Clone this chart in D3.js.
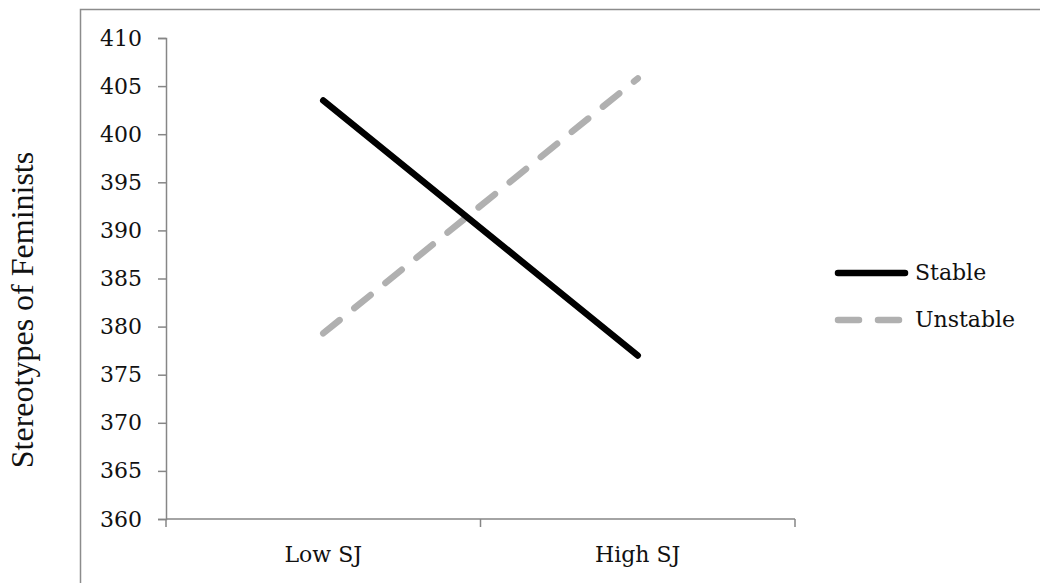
<!DOCTYPE html>
<html>
<head>
<meta charset="utf-8">
<script src="https://cdn.jsdelivr.net/npm/d3@7"></script>
<style>
  body { margin: 0; background: #fff; }
  svg { display: block; }
</style>
</head>
<body>
<svg id="chart" width="1040" height="583"></svg>
<script>
var categories = ["Low SJ", "High SJ"];
var seriesNames = ["Stable", "Unstable"];
var stableValues = [403.5, 377.0];
var unstableValues = [379.3, 405.8];
var yTicks = [360, 365, 370, 375, 380, 385, 390, 395, 400, 405, 410];
var yAxisTitle = "Stereotypes of Feminists";

var svg = d3.select("#chart"),
    margin = {top: 38, left: 166},
    plotRight = 795,
    plotBottom = 519;

var tickFont = "'DejaVu Serif', 'Liberation Serif', serif";
var tickSize = 22;

// chart area border (only left and top edges fall inside the picture)
svg.append("path")
    .attr("d", "M80.5,600V9.5H1045")
    .attr("fill", "none")
    .attr("stroke", "#8c8c8c")
    .attr("stroke-width", 1.5);

var x = d3.scaleBand()
    .domain(categories)
    .range([margin.left, plotRight]);

var y = d3.scaleLinear()
    .domain([360, 410])
    .range([plotBottom, margin.top]);

var axisColor = "#868686";

// y axis
var yAxis = svg.append("g")
    .attr("transform", "translate(" + margin.left + ",0)")
    .call(d3.axisLeft(y).tickValues(yTicks).tickSize(8).tickPadding(16).tickFormat(d3.format("d")));
yAxis.select(".domain").attr("stroke", axisColor).attr("stroke-width", 1.5);
yAxis.selectAll(".tick line").attr("stroke", axisColor).attr("stroke-width", 1.5);
yAxis.selectAll("text")
    .attr("font-family", tickFont)
    .attr("font-size", tickSize)
    .attr("fill", "#111");

// x axis: line plus ticks between categories
var xAxis = svg.append("g");
xAxis.append("line")
    .attr("x1", margin.left).attr("x2", plotRight)
    .attr("y1", plotBottom).attr("y2", plotBottom)
    .attr("stroke", axisColor).attr("stroke-width", 1.5);
var bounds = categories.map(function(c) { return x(c); }).concat([plotRight]);
xAxis.selectAll(".xtick")
    .data(bounds)
    .enter().append("line")
      .attr("class", "xtick")
      .attr("x1", function(d) { return d; })
      .attr("x2", function(d) { return d; })
      .attr("y1", plotBottom)
      .attr("y2", plotBottom + 8)
      .attr("stroke", axisColor).attr("stroke-width", 1.5);
xAxis.selectAll(".xlabel")
    .data(categories)
    .enter().append("text")
      .attr("class", "xlabel")
      .attr("x", function(d) { return x(d) + x.bandwidth() / 2; })
      .attr("y", 562)
      .attr("text-anchor", "middle")
      .attr("font-family", tickFont)
      .attr("font-size", tickSize)
      .attr("fill", "#111")
      .text(function(d) { return d; });

// y axis title
svg.append("text")
    .attr("transform", "translate(33,310) rotate(-90)")
    .attr("text-anchor", "middle")
    .attr("font-family", "'Liberation Serif', 'Times New Roman', serif")
    .attr("font-size", 32)
    .attr("fill", "#111")
    .text(yAxisTitle);

// series lines
var series = [
  {name: seriesNames[0], values: stableValues, color: "#000000", dash: null},
  {name: seriesNames[1], values: unstableValues, color: "#b0b0b0", dash: "21,19"}
];

var line = d3.line()
    .x(function(d, i) { return x(categories[i]) + x.bandwidth() / 2; })
    .y(function(d) { return y(d); });

svg.append("g")
  .selectAll("path")
  .data(series.slice().reverse())
  .enter().append("path")
    .attr("d", function(d) { return line(d.values); })
    .attr("fill", "none")
    .attr("stroke", function(d) { return d.color; })
    .attr("stroke-width", 6.5)
    .attr("stroke-linecap", "round")
    .attr("stroke-dasharray", function(d) { return d.dash; });

// legend
var legend = svg.append("g")
  .selectAll("g")
  .data(series)
  .enter().append("g")
    .attr("transform", function(d, i) { return "translate(838," + (273 + i * 47) + ")"; });

legend.append("line")
    .attr("x1", 0).attr("x2", 67)
    .attr("y1", 0).attr("y2", 0)
    .attr("stroke", function(d) { return d.color; })
    .attr("stroke-width", 6.5)
    .attr("stroke-linecap", "round")
    .attr("stroke-dasharray", function(d) { return d.dash; });

legend.append("text")
    .attr("x", 77)
    .attr("y", 0)
    .attr("dy", "0.33em")
    .attr("font-family", tickFont)
    .attr("font-size", tickSize)
    .attr("fill", "#111")
    .text(function(d) { return d.name; });
</script>
</body>
</html>
